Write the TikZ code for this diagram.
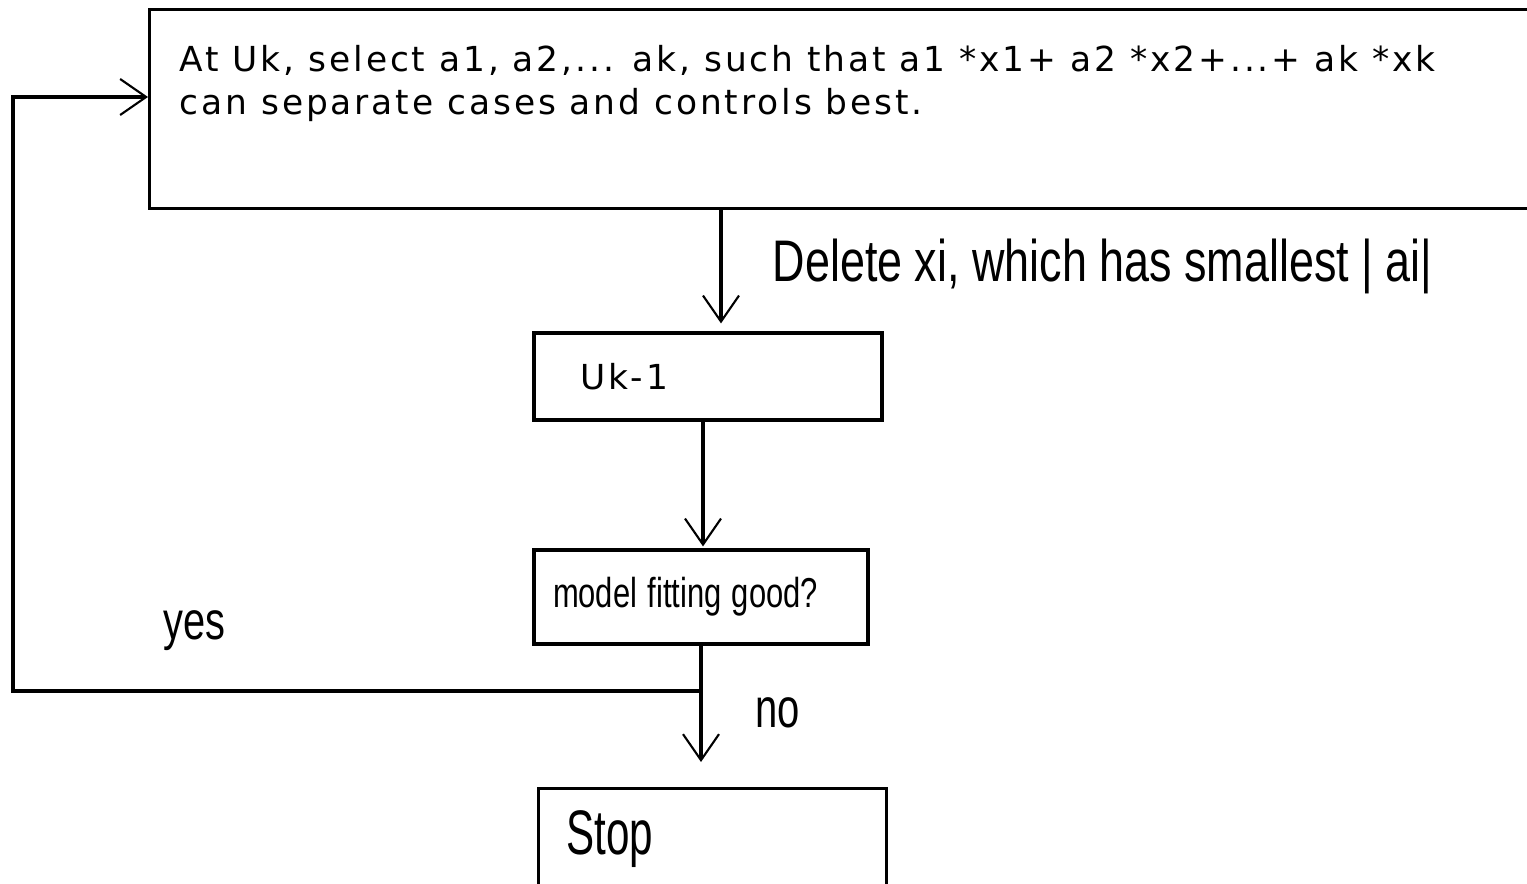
\documentclass[tikz,border=0pt]{standalone}
\usepackage{fontspec}
\setmainfont[LetterSpace=8.4]{DejaVu Sans}
\newfontfamily\narrowfont{Liberation Sans}
\usepackage{graphicx}
\usetikzlibrary{arrows.meta}
% 窄体文字 (横向压缩)
\newcommand{\narrowtxt}[2][0.74]{\scalebox{#1}[1]{#2}}

\begin{document}
\begin{tikzpicture}[x=1cm, y=1cm]
        % ================= 样式定义 =================
        \tikzset{
            % 白底黑边方框
            box/.style={rectangle, draw=black, line width=0.9pt, fill=white, inner sep=0pt},
            % 框内宽体文字
            boxtext/.style={font=\fontsize{9.8}{12.2}\selectfont, align=left, inner sep=0pt},
            % 带开口箭头的流程线
            flow/.style={line width=0.9pt, -{Straight Barb[length=2.6mm, width=3.6mm, line width=0.6pt]}},
            % 窄体标注
            tag/.style={font=\narrowfont, inner sep=0pt}
        }
        \useasboundingbox (0,0) rectangle (15.27,-8.84);

        % ================= 放置方框 =================
        \node[box, anchor=north west, minimum width=13.9cm, minimum height=1.99cm] (select) at (1.48,-0.08) {};
        \node[boxtext, anchor=north west] (selecttext) at (1.79,-0.45)
            {At Uk, select a1, a2,... ak, such that a1 *x1+ a2 *x2+...+ ak *xk\\can separate cases and controls best.};

        \node[box, minimum height=0.87cm, text width=2.56cm, inner xsep=0.46cm, align=left,
              font=\fontsize{9.8}{12.2}\selectfont] (uk) at (7.08,-3.765) {Uk-1};

        \node[box, minimum height=0.94cm, text width=2.96cm, inner xsep=0.19cm, align=left,
              font=\narrowfont\fontsize{11.9}{14}\selectfont] (fit) at (7.01,-5.97) {\narrowtxt{model fitting good?}};

        \node[box, anchor=north west, text width=2.92cm, inner xsep=0.28cm, align=left, text height=0.66cm, text depth=0.6cm,
              font=\narrowfont\fontsize{17.9}{20}\selectfont] (stop) at (5.37,-7.87) {\narrowtxt[0.67]{Stop}};

        % ================= 绘制连线 =================
        \coordinate (cut) at (7.21,0);
        \coordinate (join) at (7.01,-6.91);
        \coordinate (rail) at (0.13,0);
        \coordinate (entry) at (0,-0.97);

        % 1. 删除变量后进入 Uk-1
        \draw[flow, shorten >=0.08cm] (select.south -| cut) -- (cut |- uk.north);
        % 2. Uk-1 到判断框
        \draw[flow, shorten >=0.02cm] ([xshift=-0.05cm]uk.south) -- ([xshift=-0.05cm]uk.south |- fit.north);
        % 3. 判断为 no 时停止
        \draw[flow, shorten >=0.25cm] (fit.south) -- (fit.south |- stop.north);
        % 4. 判断为 yes 时回到顶部
        \draw[flow] (join) -- (join -| rail) |- (select.west |- entry);

        % ================= 标注 =================
        \node[tag, anchor=base west, font=\narrowfont\fontsize{16.7}{18}\selectfont] (deltag) at (7.72,-2.82)
            {\narrowtxt[0.765]{Delete xi, which has smallest | ai|}};
        \node[tag, anchor=base west, font=\narrowfont\fontsize{15.8}{18}\selectfont] (notag) at (7.55,-7.27) {\narrowtxt[0.72]{no}};
        \node[tag, anchor=base west, font=\narrowfont\fontsize{15.3}{18}\selectfont] (yestag) at (1.63,-6.40) {\narrowtxt{yes}};

\end{tikzpicture}
\end{document}
